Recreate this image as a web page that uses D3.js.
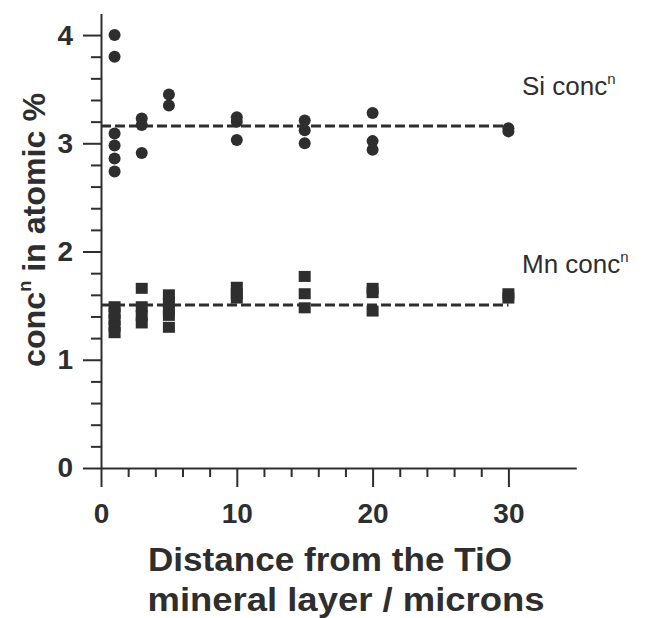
<!DOCTYPE html>
<html>
<head>
<meta charset="utf-8">
<script src="https://cdn.jsdelivr.net/npm/d3@7"></script>
<style>
  html, body { margin: 0; padding: 0; background: #fff; }
  svg { display: block; }
  text { fill: #2e2e2e; font-family: "Liberation Sans", "DejaVu Sans", sans-serif; }
</style>
</head>
<body>
<svg id="chart" width="651" height="618"></svg>
<script>
// ---- data ----
const siX      = [1, 1, 1, 1, 1, 1, 3, 3, 3, 5, 5, 10, 10, 10, 15, 15, 15, 20, 20, 20, 30, 30];
const siValues = [4.0, 3.8, 3.09, 2.98, 2.86, 2.74, 3.23, 3.17, 2.91, 3.45, 3.35, 3.24, 3.2, 3.03, 3.21, 3.12, 3.0, 3.28, 3.02, 2.94, 3.14, 3.11];
const mnX      = [1, 1, 1, 1, 1, 3, 3, 3, 3, 5, 5, 5, 5, 5, 10, 10, 10, 15, 15, 15, 20, 20, 20, 30, 30];
const mnValues = [1.49, 1.43, 1.37, 1.31, 1.25, 1.66, 1.49, 1.41, 1.34, 1.60, 1.53, 1.46, 1.41, 1.30, 1.67, 1.61, 1.57, 1.77, 1.61, 1.48, 1.66, 1.62, 1.45, 1.61, 1.57];
const siMean = 3.16;
const mnMean = 1.505;
const meanRange = [0, 30];
const xMajorTicks = [0, 10, 20, 30];
const xMinorTicks = [2, 4, 6, 8, 12, 14, 16, 18, 22, 24, 26, 28];
const yMajorTicks = [0, 1, 2, 3, 4];
const yMinorTicks = [0.2, 0.4, 0.6, 0.8, 1.2, 1.4, 1.6, 1.8, 2.2, 2.4, 2.6, 2.8, 3.2, 3.4, 3.6, 3.8];
const xTitle = ["Distance from the TiO", "mineral layer / microns"];
const yTitle = ["conc", "n", " in atomic %"];
const seriesLabels = [{name: "Si conc", y: siMean}, {name: "Mn conc", y: mnMean}];

// ---- layout ----
const svg = d3.select("#chart");
const ink = "#2e2e2e";
const x = d3.scaleLinear().domain([0, 35]).range([101, 576.3]);
const y = d3.scaleLinear().domain([0, 4.2]).range([468, 13.4]);

// minor ticks
svg.append("g").attr("transform", "translate(0,468)")
  .call(d3.axisBottom(x).tickValues(xMinorTicks).tickSize(9).tickSizeOuter(0).tickFormat(""))
  .call(g => g.select(".domain").remove());
svg.append("g").attr("transform", "translate(101,0)")
  .call(d3.axisLeft(y).tickValues(yMinorTicks).tickSize(10).tickSizeOuter(0).tickFormat(""))
  .call(g => g.select(".domain").remove());

// major axes
const xAxis = svg.append("g").attr("transform", "translate(0,468)")
  .call(d3.axisBottom(x).tickValues(xMajorTicks).tickSize(19).tickSizeOuter(0).tickPadding(16).tickFormat(d3.format("d")));
const yAxis = svg.append("g").attr("transform", "translate(101,0)")
  .call(d3.axisLeft(y).tickValues(yMajorTicks).tickSize(18).tickSizeOuter(0).tickPadding(10).tickFormat(d3.format("d")));

svg.selectAll(".tick line, .domain").attr("stroke", ink).attr("stroke-width", 2);
[xAxis, yAxis].forEach(a => a.selectAll("text")
  .attr("font-size", 28).attr("font-weight", "bold").attr("fill", ink)
  .style("font-family", "'Liberation Sans', sans-serif"));

// mean dashed lines
[siMean, mnMean].forEach(m => {
  svg.append("line")
    .attr("x1", x(meanRange[0])).attr("x2", x(meanRange[1]))
    .attr("y1", y(m)).attr("y2", y(m))
    .attr("stroke", ink).attr("stroke-width", 3).attr("stroke-dasharray", "10,4");
});

// Si circles
svg.append("g").selectAll("circle").data(siValues).join("circle")
  .attr("cx", (d, i) => x(siX[i])).attr("cy", d => y(d)).attr("r", 6).attr("fill", ink);

// Mn squares
svg.append("g").selectAll("rect").data(mnValues).join("rect")
  .attr("x", (d, i) => x(mnX[i]) - 6).attr("y", d => y(d) - 5.5)
  .attr("width", 12).attr("height", 11).attr("fill", ink);

// series labels
const lblY = [95, 273];
seriesLabels.forEach((s, i) => {
  const t = svg.append("text").attr("x", 522).attr("y", lblY[i])
    .attr("font-size", 26).attr("fill", ink);
  t.append("tspan").text(s.name);
  t.append("tspan").text("n").attr("font-size", 15).attr("dy", -11);
});

// x title
svg.append("text").attr("x", 330).attr("y", 571).attr("text-anchor", "middle")
  .attr("font-size", 33).attr("font-weight", "bold").attr("fill", ink)
  .attr("textLength", 364).attr("lengthAdjust", "spacingAndGlyphs")
  .text(xTitle[0]);
svg.append("text").attr("x", 346).attr("y", 611).attr("text-anchor", "middle")
  .attr("font-size", 33).attr("font-weight", "bold").attr("fill", ink)
  .attr("textLength", 397).attr("lengthAdjust", "spacingAndGlyphs")
  .text(xTitle[1]);

// y title
const yt = svg.append("text").attr("transform", "translate(45,230) rotate(-90)")
  .attr("text-anchor", "middle").attr("font-size", 32).attr("font-weight", "bold").attr("fill", ink)
  .attr("textLength", 274).attr("lengthAdjust", "spacingAndGlyphs");
yt.append("tspan").text(yTitle[0]);
yt.append("tspan").text(yTitle[1]).attr("font-size", 18).attr("dy", -14);
yt.append("tspan").text(yTitle[2]).attr("dy", 14);
</script>
</body>
</html>
